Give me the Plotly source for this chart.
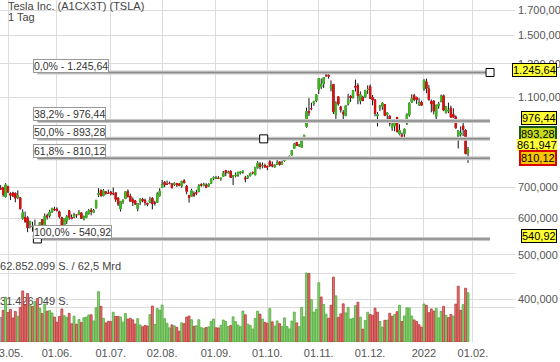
import numpy as np
import pandas as pd
import plotly.graph_objects as go

# ---------------- data ----------------
TITLE = "Tesla Inc. (A1CX3T) (TSLA)"
SUBTITLE = "1 Tag"
FIRST_DAY = "2021-04-28"
US_HOLIDAYS = ["2021-05-31", "2021-07-05", "2021-09-06", "2021-11-25",
               "2021-12-24", "2022-01-17", "2022-02-21"]

OPEN = [696.41, 699.51, 667.59,
        703.80, 678.94, 681.06, 680.76, 665.80, 664.90, 599.24, 602.49, 601.54, 583.41, 575.55, 568.00, 552.55, 575.00, 596.11, 581.60, 607.31, 607.56, 620.24, 628.50,
        627.80, 620.13, 601.80, 579.71, 591.83, 623.01, 602.17, 603.88, 610.23, 612.23, 616.69, 597.54, 601.89, 613.37, 624.48, 618.25, 632.00, 674.99, 689.58, 671.64, 684.65, 679.77,
        683.92, 678.98, 681.71, 664.27, 628.37, 653.18, 662.20, 686.32, 670.75, 658.39, 654.68, 629.29, 651.99, 659.61, 656.44, 646.36, 650.97, 663.40, 647.00, 649.79, 671.76,
        700.00, 719.00, 711.00, 716.00, 711.90, 710.17, 713.99, 712.71, 706.34, 723.71, 705.07, 672.66, 669.75, 678.21, 682.85, 685.44, 710.68, 707.03, 708.31, 705.00, 714.72, 733.00,
        734.08, 734.50, 732.25, 740.00, 761.58, 753.41, 759.60, 740.21, 742.57, 745.00, 752.83, 757.15, 734.56, 734.79, 743.53, 755.00, 745.89, 773.12, 787.20, 779.80, 781.00,
        778.40, 796.50, 784.80, 776.20, 785.46, 796.21, 787.65, 800.93, 810.47, 815.49, 823.74, 851.77, 877.53, 865.35, 856.00, 895.50, 950.53, 1024.69, 1039.66, 1068.31, 1081.86,
        1145.00, 1159.36, 1177.33, 1234.41, 1228.00, 1149.79, 1173.60, 1010.41, 1102.77, 1047.50, 1017.63, 1003.31, 1063.51, 1106.55, 1098.87, 1162.33, 1167.51, 1080.39, 1099.47, 1100.99, 1144.37,
        1160.70, 1099.06, 1084.79, 1001.51, 1044.20, 1052.71, 1060.64, 1008.75, 1001.09, 945.00, 953.21, 994.50, 914.77, 910.80, 916.87, 965.66, 1006.80, 1073.67, 1109.49, 1098.64, 1061.33, 1073.44,
        1147.75, 1189.55, 1146.65, 1077.00, 1080.37, 1000.00, 1053.67, 1078.85, 1109.07, 1019.88, 1026.61, 1041.71, 1009.73, 996.34, 904.76, 914.20, 952.43, 933.36, 831.56]
HIGH = [708.50, 702.25, 715.47,
        706.00, 683.45, 685.30, 681.02, 690.00, 665.05, 627.10, 620.41, 606.46, 592.87, 589.73, 596.25, 566.21, 588.85, 596.68, 614.48, 613.99, 626.17, 631.13, 635.59,
        633.80, 623.36, 604.55, 600.61, 610.00, 623.09, 611.79, 616.59, 612.56, 625.49, 616.79, 608.50, 621.47, 628.35, 631.39, 628.57, 657.20, 697.62, 693.81, 694.70, 687.51, 692.81,
        687.99, 700.00, 684.00, 665.70, 654.43, 658.91, 687.24, 693.28, 678.61, 666.14, 656.70, 647.20, 662.39, 664.86, 662.17, 648.80, 668.20, 666.50, 654.97, 683.69, 697.53,
        726.94, 722.65, 724.90, 720.95, 716.33, 719.03, 716.59, 715.18, 722.80, 729.90, 709.50, 674.58, 695.77, 686.55, 692.13, 712.13, 715.22, 716.97, 715.40, 715.00, 731.00, 740.39,
        741.99, 740.97, 734.00, 760.20, 764.45, 762.10, 762.61, 744.78, 754.47, 756.86, 758.91, 761.04, 742.00, 744.74, 753.67, 758.20, 774.80, 799.00, 794.60, 793.50, 789.13,
        780.78, 806.97, 797.31, 786.66, 805.00, 796.38, 801.24, 812.32, 815.41, 820.25, 843.21, 875.00, 877.95, 869.49, 900.00, 910.00, 1045.02, 1094.94, 1070.88, 1081.00, 1115.21,
        1209.75, 1208.59, 1215.39, 1245.64, 1239.87, 1197.00, 1174.50, 1078.10, 1104.97, 1054.50, 1031.98, 1057.20, 1119.64, 1112.00, 1138.72, 1201.95, 1180.50, 1132.77, 1108.78, 1142.67, 1168.00,
        1172.84, 1113.00, 1090.58, 1021.64, 1057.67, 1072.38, 1062.49, 1020.98, 1005.00, 966.41, 978.75, 994.98, 960.66, 921.69, 939.50, 1015.66, 1072.98, 1117.00, 1119.00, 1104.00, 1095.55, 1082.00,
        1201.07, 1208.00, 1170.34, 1088.00, 1080.93, 1059.10, 1075.85, 1114.84, 1115.60, 1052.00, 1070.79, 1054.67, 1041.66, 1004.55, 933.51, 951.26, 987.69, 935.39, 857.50]
LOW = [693.60, 668.50, 666.14,
       680.50, 657.70, 667.34, 650.00, 660.22, 627.61, 595.60, 586.77, 559.65, 570.46, 561.20, 563.38, 540.92, 571.07, 580.00, 573.65, 595.71, 601.50, 616.21, 622.38,
       620.55, 599.14, 571.22, 577.20, 582.88, 595.50, 597.63, 600.50, 601.52, 609.18, 598.23, 593.50, 601.34, 611.80, 608.88, 615.50, 630.04, 667.61, 668.70, 670.32, 675.89, 678.14,
       672.80, 673.26, 651.40, 638.32, 620.46, 644.69, 662.16, 666.30, 652.84, 637.88, 642.20, 621.29, 640.50, 650.29, 639.42, 637.30, 647.11, 627.24, 639.40, 648.80, 669.00,
       698.40, 701.01, 708.93, 711.41, 697.63, 705.13, 701.88, 704.21, 699.40, 714.34, 676.40, 648.84, 669.35, 667.59, 673.70, 685.05, 702.64, 704.00, 697.62, 702.10, 712.73, 726.44,
       731.27, 730.54, 724.20, 739.26, 740.77, 751.63, 734.52, 708.85, 736.40, 738.36, 747.61, 750.00, 718.62, 730.44, 739.12, 747.92, 744.56, 769.31, 766.18, 770.68, 775.00,
       763.59, 776.12, 774.20, 773.22, 783.38, 780.91, 785.50, 796.57, 805.78, 813.35, 822.35, 851.47, 862.51, 857.38, 855.50, 890.96, 944.20, 1001.44, 1030.78, 1054.20, 1073.21,
       1118.66, 1146.00, 1152.62, 1217.00, 1208.00, 1133.00, 1011.52, 987.31, 1054.68, 1019.20, 978.60, 1002.18, 1055.50, 1075.02, 1092.70, 1132.43, 1062.70, 1062.00, 1081.00, 1100.19, 1118.00,
       1090.76, 1056.65, 1000.21, 950.50, 1026.81, 1033.00, 1002.36, 982.53, 951.42, 930.00, 928.25, 921.85, 909.04, 893.39, 886.12, 957.05, 997.56, 1070.72, 1078.42, 1064.14, 1053.15, 1054.59,
       1136.72, 1123.05, 1081.01, 1020.50, 1010.00, 980.00, 1038.82, 1072.59, 1026.54, 1013.38, 1016.06, 995.00, 994.00, 940.50, 851.47, 903.21, 906.00, 829.00, 792.01]
CLOSE = [694.40, 677.00, 709.44,
         684.90, 673.60, 670.94, 663.54, 672.37, 629.04, 617.20, 589.89, 571.69, 589.74, 576.83, 577.87, 563.46, 586.78, 580.88, 606.44, 604.69, 619.13, 630.85, 625.22,
         623.90, 605.12, 572.84, 599.05, 605.13, 603.59, 598.78, 610.12, 609.89, 617.69, 599.36, 604.87, 616.60, 623.31, 620.83, 623.71, 656.57, 679.82, 671.87, 688.72, 680.76, 679.70,
         677.92, 678.90, 659.58, 644.65, 652.81, 656.95, 685.70, 668.54, 653.38, 650.60, 644.22, 646.22, 660.50, 655.29, 649.26, 643.38, 657.62, 644.78, 646.98, 677.35, 687.20,
         709.67, 709.74, 710.92, 714.63, 699.10, 713.76, 709.99, 707.82, 722.25, 717.17, 686.17, 665.71, 688.99, 673.47, 680.26, 706.30, 708.49, 711.20, 701.16, 711.92, 730.91, 735.72,
         734.09, 732.39, 733.57, 752.92, 753.87, 754.86, 736.27, 743.00, 744.49, 755.83, 756.99, 759.49, 730.17, 739.38, 751.94, 753.64, 774.39, 791.36, 777.56, 781.31, 775.48,
         775.22, 781.53, 780.59, 782.75, 793.61, 785.49, 791.94, 805.72, 811.08, 818.32, 843.03, 870.11, 864.27, 865.80, 894.00, 909.68, 1024.86, 1018.43, 1037.86, 1077.04, 1114.00,
         1208.59, 1172.00, 1213.86, 1229.91, 1222.09, 1162.94, 1023.50, 1067.95, 1063.51, 1033.42, 1013.39, 1054.73, 1089.01, 1096.38, 1137.06, 1156.87, 1109.03, 1116.00, 1081.92, 1136.99, 1144.76,
         1095.00, 1084.60, 1014.97, 1009.01, 1051.75, 1068.96, 1003.80, 1017.03, 966.41, 958.51, 975.99, 926.92, 932.57, 899.94, 938.53, 1008.87, 1067.00, 1093.94, 1088.47, 1086.19, 1070.34, 1056.78,
         1199.78, 1149.59, 1088.12, 1064.70, 1026.96, 1058.12, 1064.40, 1106.22, 1031.56, 1049.61, 1030.51, 995.65, 996.27, 943.90, 930.00, 918.40, 937.41, 829.10, 846.35]
VOLUME_M = [22.3, 28.8, 40.8,
            27.0, 29.7, 21.9, 27.8, 23.4, 31.4, 46.5, 33.8, 44.2, 33.4, 32.4, 36.8, 39.6, 30.8, 26.0, 34.5, 28.0, 28.6, 26.4, 22.7,
            18.0, 23.3, 30.1, 24.0, 22.5, 26.1, 16.6, 23.5, 16.2, 20.4, 17.8, 22.1, 22.7, 24.6, 24.8, 19.2, 31.1, 45.9, 32.5, 21.6, 17.4, 18.9,
            18.6, 27.1, 23.3, 23.3, 22.8, 18.1, 25.9, 20.9, 21.6, 20.2, 16.3, 21.3, 15.5, 13.9, 15.1, 14.6, 25.0, 32.8, 16.0, 30.4, 29.0,
            33.6, 21.2, 17.0, 12.9, 15.6, 14.7, 13.4, 9.8, 17.5, 16.7, 22.7, 23.7, 20.3, 14.3, 14.8, 20.3, 13.1, 12.6, 13.2, 13.8, 18.6, 20.9,
            13.0, 12.8, 15.2, 20.0, 18.8, 14.1, 15.1, 22.9, 18.5, 15.4, 13.9, 28.2, 24.8, 16.3, 15.1, 11.9, 21.4, 28.1, 25.4, 20.9, 17.9,
            17.0, 30.5, 18.4, 14.6, 19.2, 16.7, 14.2, 22.0, 14.1, 12.0, 19.0, 27.2, 17.4, 14.0, 31.5, 22.9, 62.85, 62.42, 38.5, 27.2, 29.9,
            54.0, 41.0, 34.1, 25.4, 21.6, 33.4, 59.1, 42.1, 22.4, 25.6, 34.8, 26.5, 31.5, 20.9, 21.6, 33.1, 36.2, 22.6, 11.7, 19.5, 27.1,
            25.0, 24.4, 30.8, 27.2, 18.7, 13.6, 19.8, 19.9, 26.2, 23.4, 25.1, 27.6, 33.5, 18.8, 23.8, 31.2, 30.9, 23.7, 20.1, 18.7, 15.7, 13.6,
            34.6, 33.4, 26.7, 30.1, 28.1, 30.6, 22.0, 27.9, 32.4, 24.3, 22.2, 25.1, 23.5, 34.5, 50.8, 28.9, 34.0, 49.0, 44.9]

TICK_DATES = ["2021-05-03", "2021-06-01", "2021-07-01", "2021-08-02", "2021-09-01",
              "2021-10-01", "2021-11-01", "2021-12-01", "2022-01-03", "2022-02-01"]
TICK_LABELS = ["03.05.", "01.06.", "01.07.", "02.08.", "01.09.",
               "01.10.", "01.11.", "01.12.", "2022", "01.02."]
PRICE_TICKS = [400, 500, 600, 700, 1100, 1300, 1500, 1700]
PRICE_TICK_LABELS = ["400,000", "500,000", "600,000", "700,000",
                     "1.100,000", "1.300,000", "1.500,000", "1.700,000"]

FIB_LEVELS = [0.0, 0.382, 0.5, 0.618, 1.0]
FIB_HIGH = 1245.64
FIB_LOW = 540.92
FIB_LOW_DATE = "2021-05-19"
FIB_HIGH_DATE = "2022-02-10"
LAST_PRICE = 861.947
VOL_MAX = 62852099
VOL_TURNOVER = "62,5 Mrd"

# ---------------- styling ----------------
FONT = "Liberation Sans, Arial, sans-serif"
GREEN = "#3fbf1f"
RED = "#e01010"
VGREEN, VGREEN_LN = "#8fd47a", "#4fa83a"
VRED, VRED_LN = "#e77676", "#b83333"
GRID = "#dcdcdc"
W, H = 560, 362
ML, MR, MT, MB = 0, 45, 0, 20
PW, PH = W - ML - MR, H - MT - MB
XMIN, XMAX = -0.27, 210.2
YLOG = [2.50888, 3.25317]
VOL_PX = 69  # height in px of the volume scale maximum

def de(v, nd=2):
    s = f"{v:,.{nd}f}"
    return s.replace(",", "_").replace(".", ",").replace("_", ".")

def pxx(p):
    return p / PW

def pxy(p):
    return 1 - p / PH

days = pd.bdate_range(FIRST_DAY, "2022-03-31", freq="C", holidays=US_HOLIDAYS)
pos = {d.strftime("%Y-%m-%d"): i for i, d in enumerate(days)}
x = list(range(len(CLOSE)))

fig = go.Figure()

# text under volume bars (on y2)
vrange = [0, VOL_MAX / 1e6 * PH / VOL_PX]
fig.add_trace(go.Scatter(
    x=[XMIN + 0.02, XMIN + 0.02], y=[VOL_MAX / 1e6, VOL_MAX / 2e6],
    text=[f"{de(VOL_MAX, 0)} S. / {VOL_TURNOVER}", f"{de(int(VOL_MAX / 2), 0)} S."],
    mode="text", textposition="top right", cliponaxis=False,
    textfont=dict(family=FONT, size=11, color="#444"),
    yaxis="y2", hoverinfo="skip", showlegend=False))

# volume bars (on y3)
vcol, vln = [], []
for i, c in enumerate(CLOSE):
    if i == 0:
        vcol.append("#b0b0b0"); vln.append("#808080")
    elif c >= CLOSE[i - 1]:
        vcol.append(VGREEN); vln.append(VGREEN_LN)
    else:
        vcol.append(VRED); vln.append(VRED_LN)
fig.add_trace(go.Bar(x=x, y=VOLUME_M, yaxis="y3", width=0.78,
                     marker=dict(color=vcol, line=dict(color=vln, width=0.8)),
                     hoverinfo="skip", showlegend=False))

# candles: black wicks, coloured bodies
fig.add_trace(go.Candlestick(
    x=x, open=OPEN, high=HIGH, low=LOW, close=CLOSE, whiskerwidth=0,
    increasing=dict(line=dict(color="#111", width=1), fillcolor="#111"),
    decreasing=dict(line=dict(color="#111", width=1), fillcolor="#111"),
    hoverinfo="skip", showlegend=False))
bhi = [max(o, c) for o, c in zip(OPEN, CLOSE)]
blo = [min(o, c) for o, c in zip(OPEN, CLOSE)]
fig.add_trace(go.Candlestick(
    x=x, open=OPEN, high=bhi, low=blo, close=CLOSE, whiskerwidth=0,
    increasing=dict(line=dict(color=GREEN, width=1), fillcolor=GREEN),
    decreasing=dict(line=dict(color=RED, width=1), fillcolor=RED),
    hoverinfo="skip", showlegend=False))

# Fibonacci retracement
xa, xb = pos[FIB_LOW_DATE], pos[FIB_HIGH_DATE]
fib_prices = [FIB_HIGH - lv * (FIB_HIGH - FIB_LOW) for lv in FIB_LEVELS]
for p in fib_prices:
    fig.add_trace(go.Scatter(x=[xa, xb], y=[p, p], mode="lines", cliponaxis=False,
                             line=dict(color="#c8c8c8", width=4), hoverinfo="skip", showlegend=False))
    fig.add_trace(go.Scatter(x=[xa, xb], y=[p, p], mode="lines", cliponaxis=False,
                             line=dict(color="#8a8a8a", width=1.5), hoverinfo="skip", showlegend=False))
fig.add_trace(go.Scatter(
    x=[xa, (xa + xb) / 2, xb], y=[FIB_LOW, fib_prices[2], FIB_HIGH], mode="markers",
    cliponaxis=False,
    marker=dict(symbol="square", size=8, color="white", line=dict(color="black", width=1)),
    hoverinfo="skip", showlegend=False))

annotations = []
for lv, p in zip(FIB_LEVELS, fib_prices):
    annotations.append(dict(
        x=xa, y=np.log10(p), xref="x", yref="y", xanchor="left", yanchor="bottom",
        xshift=-4, yshift=0, showarrow=False,
        text=f"{de(lv * 100, 1)}% - {de(p)}",
        font=dict(family=FONT, size=10.5, color="#333"),
        bgcolor="white", bordercolor="#999", borderwidth=1, borderpad=0))

# right-hand price labels
right_labels = [
    (FIB_HIGH, de(FIB_HIGH), "#ffff33", "#000", 1, 3),
    (fib_prices[1], de(fib_prices[1]), "#ffff33", "#000", 1, 3),
    (fib_prices[2], de(fib_prices[2]), "#c4dc1c", "#1c5a12", 2, 5),
    (LAST_PRICE, de(LAST_PRICE, 3), "#ffff33", "rgba(0,0,0,0)", 0, 1),
    (fib_prices[3], de(fib_prices[3]), "#f8c400", "#d80000", 2, 0),
    (FIB_LOW, de(FIB_LOW), "#ffff33", "#000", 1, 3),
]
for p, t, bg, bc, bw, ys in right_labels:
    annotations.append(dict(
        x=pxx(557), y=np.log10(p), xref="paper", yref="y", xanchor="right", yanchor="middle",
        yshift=ys, showarrow=False, text=t,
        font=dict(family=FONT, size=11, color="#000"),
        bgcolor=bg, bordercolor=bc, borderwidth=bw, borderpad=0))

annotations.append(dict(x=pxx(6), y=pxy(6), xref="paper", yref="paper", xanchor="left",
                        yanchor="middle", showarrow=False, text=TITLE,
                        font=dict(family=FONT, size=11, color="#444")))
annotations.append(dict(x=pxx(6), y=pxy(16.5), xref="paper", yref="paper", xanchor="left",
                        yanchor="middle", showarrow=False, text=SUBTITLE,
                        font=dict(family=FONT, size=11, color="#444")))

fig.update_layout(
    template="none",
    width=W, height=H,
    margin=dict(l=ML, r=MR, t=MT, b=MB, pad=0),
    paper_bgcolor="white", plot_bgcolor="white",
    showlegend=False,
    font=dict(family=FONT, size=11, color="#555"),
    xaxis=dict(range=[XMIN, XMAX], rangeslider=dict(visible=False),
               tickmode="array", tickvals=[pos[d] for d in TICK_DATES], ticktext=TICK_LABELS,
               showgrid=True, gridcolor=GRID, gridwidth=1, zeroline=False, showline=False,
               ticks="", ticklabelstandoff=3, ticklabeloverflow="allow",
               tickfont=dict(family=FONT, size=11, color="#555"), automargin=False),
    yaxis=dict(type="log", range=YLOG, side="right", tickmode="array",
               tickvals=PRICE_TICKS, ticktext=PRICE_TICK_LABELS,
               showgrid=True, gridcolor=GRID, gridwidth=1, zeroline=False, showline=False,
               ticks="", ticklabelstandoff=2, ticklabeloverflow="allow",
               tickfont=dict(family=FONT, size=11, color="#555"), automargin=False),
    yaxis2=dict(overlaying="y", range=vrange, side="left", tickmode="array",
                tickvals=[VOL_MAX / 2e6, VOL_MAX / 1e6], showticklabels=False,
                showgrid=True, gridcolor=GRID, zeroline=False, showline=False, ticks="",
                automargin=False),
    yaxis3=dict(overlaying="y", range=vrange, visible=False, automargin=False),
    bargap=0.2,
    annotations=annotations,
)

fig.write_html("out.html", config={"displayModeBar": False},
               post_script="document.body.style.margin='0px';document.body.style.padding='0px';")
